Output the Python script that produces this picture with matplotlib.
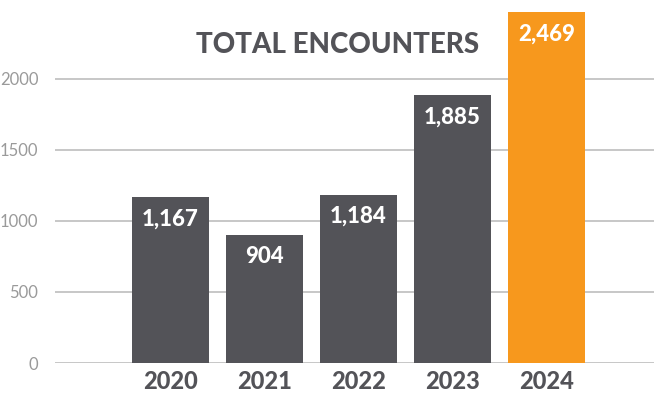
import matplotlib.pyplot as plt

years = ['2020', '2021', '2022', '2023', '2024']
encounters = [1167, 904, 1184, 1885, 2469]
bar_colors = ['#535358', '#535358', '#535358', '#535358', '#F7981D']
yticks = [0, 500, 1000, 1500, 2000]

plt.rcParams['font.family'] = ['Lato', 'DejaVu Sans']

fig = plt.figure(figsize=(6.66, 4.0), dpi=100)
ax = fig.add_axes([55 / 666, 37 / 400, (654 - 55) / 666, 363 / 400])

x = list(range(len(years)))
bars = ax.bar(x, encounters, width=0.82, color=bar_colors, zorder=3)

for rect, val in zip(bars, encounters):
    ax.annotate(f'{val:,}', (rect.get_x() + rect.get_width() / 2, val),
                xytext=(0, -8), textcoords='offset points',
                ha='center', va='top', color='white',
                fontsize=16, fontweight='black', zorder=4)

ax.set_xlim(-1.229, 5.144)
ax.set_ylim(0, 2556)
ax.set_yticks(yticks)
ax.set_yticklabels([str(t) for t in yticks], color='#9a9a9a', fontsize=12)
ax.set_xticks(x)
ax.set_xticklabels(years, color='#535358', fontsize=17, fontweight='black')
ax.tick_params(axis='y', length=0, pad=12)
ax.tick_params(axis='x', length=0, pad=5)
ax.grid(axis='y', color='#bdbdbd', linewidth=1.2, zorder=0)
for s in ax.spines.values():
    s.set_visible(False)

fig.text(338 / 666, 1 - 45 / 400, 'TOTAL ENCOUNTERS', ha='center', va='center',
         color='#535358', fontsize=20, fontweight='black')

fig.savefig('out.png', dpi=100)
